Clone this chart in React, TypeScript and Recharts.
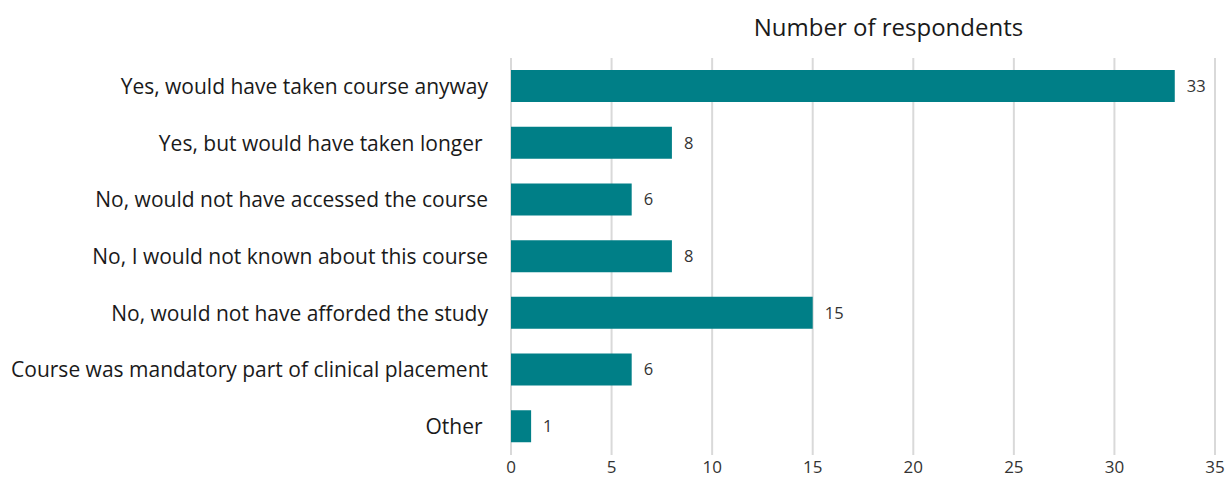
import React from 'react';
import { BarChart, Bar, XAxis, YAxis, CartesianGrid, LabelList } from 'recharts';

const categories = [
  'Yes, would have taken course anyway',
  'Yes, but would have taken longer\u00a0',
  'No, would not have accessed the course',
  'No, I would not known about this course',
  'No, would not have afforded the study',
  'Course was mandatory part of clinical placement',
  'Other\u00a0',
];
const respondents = [33, 8, 6, 8, 15, 6, 1];
const xTicks = [0, 5, 10, 15, 20, 25, 30, 35];

const data = categories.map((name, i) => ({ name, value: respondents[i] }));

const font = '"Open Sans", Lato, sans-serif';

const App: React.FC = () => {
  return (
    <div style={{ position: 'absolute', left: 0, top: 0, width: 1227, height: 488, fontFamily: font }}>
      <div
        style={{
          position: 'absolute',
          left: 511,
          width: 755,
          top: 11,
          textAlign: 'center',
          fontSize: 24,
          lineHeight: '32px',
          color: '#1a1a1a',
        }}
      >
        Number of respondents
      </div>
      <BarChart
        width={1227}
        height={488}
        data={data}
        layout="vertical"
        margin={{ top: 58, right: 12, bottom: 0, left: 0 }}
      >
        <CartesianGrid horizontal={false} stroke="#d9d9d9" strokeWidth={2} />
        <XAxis
          type="number"
          domain={[0, 35]}
          ticks={xTicks}
          axisLine={false}
          tickLine={false}
          height={33}
          tickMargin={0}
          tick={{ fontSize: 17, fill: '#333', fontFamily: font }}
        />
        <YAxis
          type="category"
          dataKey="name"
          width={511}
          axisLine={false}
          tickLine={false}
          tickMargin={17}
          tick={{ fontSize: 21, fill: '#1a1a1a', fontFamily: font }}
        />
        <Bar dataKey="value" fill="#007F87" barSize={32} isAnimationActive={false}>
          <LabelList
            dataKey="value"
            position="right"
            offset={12}
            style={{ fontSize: 16.5, fill: '#333', fontFamily: font }}
          />
        </Bar>
      </BarChart>
    </div>
  );
};

export default App;
